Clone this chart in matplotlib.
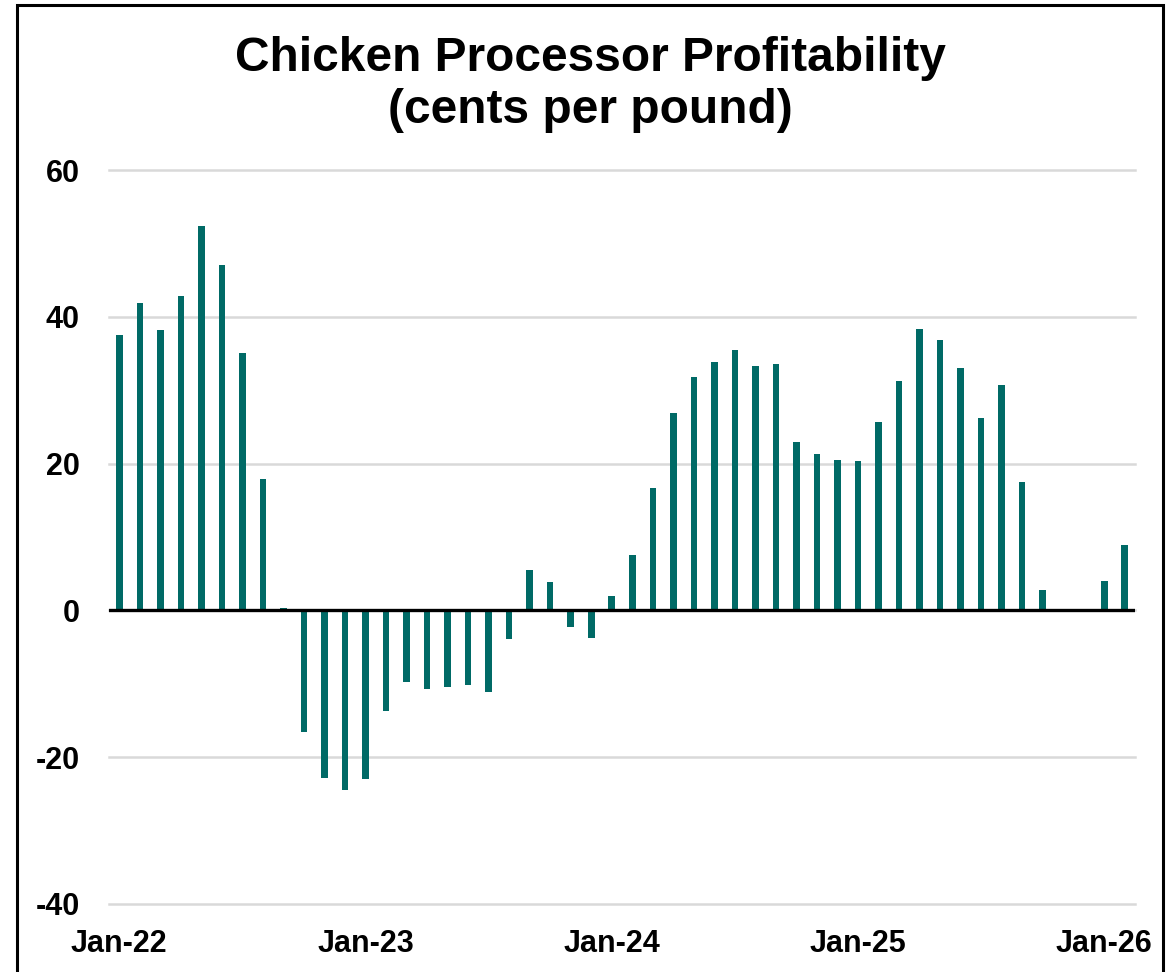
import numpy as np
import pandas as pd
import matplotlib
matplotlib.use("Agg")
import matplotlib.pyplot as plt
from matplotlib.patches import Rectangle

# ==============================
# DATOS (centavos por libra, mensual Jan-22 .. Feb-26)
# ==============================

meses = pd.date_range("2022-01-01", "2026-02-01", freq="MS")

ganancia = [
    37.5, 41.9, 38.2, 42.8, 52.4, 47.0, 35.0, 17.9, 0.3, -16.6, -22.9, -24.5,
    -23.0, -13.7, -9.7, -10.7, -10.5, -10.1, -11.1, -3.9, 5.5, 3.8, -2.3, -3.8,
    1.9, 7.5, 16.7, 26.9, 31.8, 33.8, 35.5, 33.3, 33.6, 23.0, 21.3, 20.5,
    20.4, 25.6, 31.3, 38.4, 36.8, 33.0, 26.2, 30.7, 17.5, 2.8, np.nan, np.nan,
    4.0, 8.9,
]

ticks_y = [-40, -20, 0, 20, 40, 60]
etiquetas_x = ["Jan-22", "Jan-23", "Jan-24", "Jan-25", "Jan-26"]
pos_etiquetas_x = [0, 12, 24, 36, 48]

color_barra = "#006A66"

plt.rcParams["font.family"] = ["Liberation Sans", "DejaVu Sans"]
plt.rcParams["font.weight"] = "bold"

# ==============================
# GRAFICO
# ==============================

fig = plt.figure(figsize=(11.7, 9.72), dpi=100)
ax = fig.add_axes([0.0932, 0.0700, 0.8769, 0.7551])

x = np.arange(len(meses))
ax.bar(x, ganancia, width=0.32, color=color_barra, zorder=3)

ax.set_xlim(-0.5, len(meses) - 0.5)
ax.set_ylim(-40, 60)
ax.set_yticks(ticks_y)
ax.set_yticklabels([str(t) for t in ticks_y], fontsize=22, fontweight="bold")
ax.set_xticks(pos_etiquetas_x)
ax.set_xticklabels(etiquetas_x, fontsize=22, fontweight="bold")
ax.tick_params(axis="both", length=0)
ax.tick_params(axis="y", pad=21)
ax.tick_params(axis="x", pad=18)

ax.grid(axis="y", color="#D9D9D9", linewidth=1.8, zorder=0)
for linea in ax.get_ygridlines():
    linea.set_clip_on(False)
ax.axhline(0, color="black", linewidth=2.4, zorder=4)
for s in ax.spines.values():
    s.set_visible(False)

fig.text(0.505, 0.940, "Chicken Processor Profitability", ha="center",
         va="center", fontsize=34.5, fontweight="bold")
fig.text(0.505, 0.886, "(cents per pound)", ha="center",
         va="center", fontsize=34.5, fontweight="bold")

# marco alrededor de la figura
marco = Rectangle((17 / 1170, -0.05), (1163 - 17) / 1170, 1.05 - 5 / 972,
                  transform=fig.transFigure, fill=False, edgecolor="black",
                  linewidth=2.2, zorder=10)
fig.patches.append(marco)

fig.savefig("out.png", dpi=100)
plt.close(fig)
